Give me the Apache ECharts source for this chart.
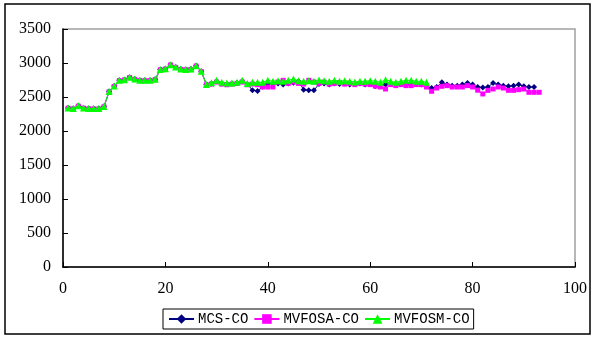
<!DOCTYPE html>
<html>
<head>
<meta charset="utf-8">
<script src="https://cdn.jsdelivr.net/npm/echarts@6/dist/echarts.min.js"></script>
<style>
  html, body { margin: 0; padding: 0; background: #fff; }
  #main { width: 594px; height: 339px; }
</style>
</head>
<body>
<div id="main"></div>
<script>
// shared start of all three runs (x = 1..28)
var startVals = [2340, 2330, 2370, 2340, 2330, 2330, 2330, 2360, 2580, 2660,
  2745, 2755, 2790, 2765, 2745, 2745, 2745, 2760, 2905, 2915,
  2975, 2940, 2910, 2905, 2910, 2960, 2880, 2685];

var mcsTail = [2700, 2730, 2700, 2690, 2700, 2705, 2730, 2690, 2600, 2590,
  2650, 2690, 2700, 2700, 2682, 2700, 2710, 2731, 2608, 2598,
  2598, 2690, 2700, 2682, 2700, 2690, 2700, 2682, 2690, 2700,
  2682, 2690, 2660, 2670, 2682, 2697, 2690, 2690, 2682, 2690,
  2690, 2682, 2657, 2632, 2647, 2716, 2682, 2667, 2667, 2682,
  2706, 2682, 2647, 2640, 2647, 2706, 2682, 2667, 2657, 2667,
  2682, 2657, 2647, 2647];

var mvfosaTail = [2690, 2720, 2690, 2680, 2690, 2700, 2720, 2680, 2690, 2680,
  2647, 2647, 2647, 2720, 2745, 2700, 2720, 2700, 2690, 2745,
  2720, 2700, 2720, 2690, 2700, 2710, 2690, 2700, 2682, 2700,
  2690, 2682, 2660, 2647, 2618, 2682, 2667, 2682, 2667, 2667,
  2682, 2682, 2647, 2584, 2632, 2657, 2667, 2647, 2647, 2647,
  2667, 2647, 2600, 2545, 2598, 2618, 2647, 2632, 2598, 2598,
  2608, 2618, 2569, 2569, 2569];

var mvfosmTail = [2710, 2745, 2716, 2706, 2706, 2716, 2745, 2700, 2716, 2716,
  2716, 2745, 2731, 2740, 2731, 2745, 2764, 2740, 2731, 2740,
  2731, 2750, 2740, 2731, 2745, 2731, 2740, 2731, 2720, 2731,
  2731, 2740, 2731, 2716, 2755, 2731, 2716, 2731, 2745, 2745,
  2731, 2731, 2716];

var seriesNames = ['MCS-CO', 'MVFOSA-CO', 'MVFOSM-CO'];
var seriesColors = ['#000080', '#ff00ff', '#00ff00'];
var seriesSymbols = ['diamond', 'rect', 'triangle'];
var symbolSizes = [6, 5, 7];

function toPoints(vals) {
  return vals.map(function (v, i) { return [i + 1, v]; });
}

var allData = [
  toPoints(startVals.concat(mcsTail)),
  toPoints(startVals.map(function (v) { return v - 5; }).concat(mvfosaTail)),
  toPoints(startVals.concat(mvfosmTail))
];

var chart = echarts.init(document.getElementById('main'));
var serif = '"Liberation Serif", "DejaVu Serif", serif';

var option = {
  animation: false,
  backgroundColor: '#fff',
  graphic: [{
    type: 'rect',
    shape: { x: 5, y: 4, width: 585, height: 330 },
    style: { fill: 'none', stroke: '#000', lineWidth: 1.5 },
    silent: true
  }],
  grid: {
    left: 63, right: 19, top: 29, bottom: 72,
    show: true, borderColor: '#a0a0a0', borderWidth: 1.5
  },
  legend: {
    left: 163, top: 309,
    padding: [3, 4, 3, 5],
    itemGap: 5, itemWidth: 25, itemHeight: 12,
    borderColor: '#000', borderWidth: 1,
    textStyle: { fontFamily: '"Liberation Mono", monospace', fontSize: 14, color: '#000', padding: [0, 0, 0, -1] },
    data: seriesNames
  },
  xAxis: {
    type: 'value', min: 0, max: 100, interval: 20,
    axisLine: { lineStyle: { color: '#000', width: 1.5 } },
    axisTick: { inside: true, length: 5, lineStyle: { color: '#000' } },
    splitLine: { show: false },
    axisLabel: { color: '#000', fontFamily: serif, fontSize: 16, margin: 14 }
  },
  yAxis: {
    type: 'value', min: 0, max: 3500, interval: 500,
    axisLine: { show: true, lineStyle: { color: '#000', width: 1.5 } },
    axisTick: { show: true, inside: true, length: 5, lineStyle: { color: '#000' } },
    splitLine: { show: false },
    axisLabel: {
      color: '#000', fontFamily: serif, fontSize: 16, margin: 12,
      formatter: function (v) { return String(v); }
    }
  },
  series: seriesNames.map(function (name, k) {
    return {
      name: name,
      type: 'line',
      data: allData[k],
      symbol: seriesSymbols[k],
      symbolSize: symbolSizes[k],
      showAllSymbol: true,
      color: seriesColors[k],
      lineStyle: { color: seriesColors[k], width: 1 },
      itemStyle: { color: seriesColors[k] },
      z: 2 + k
    };
  })
};

chart.setOption(option);
</script>
</body>
</html>
